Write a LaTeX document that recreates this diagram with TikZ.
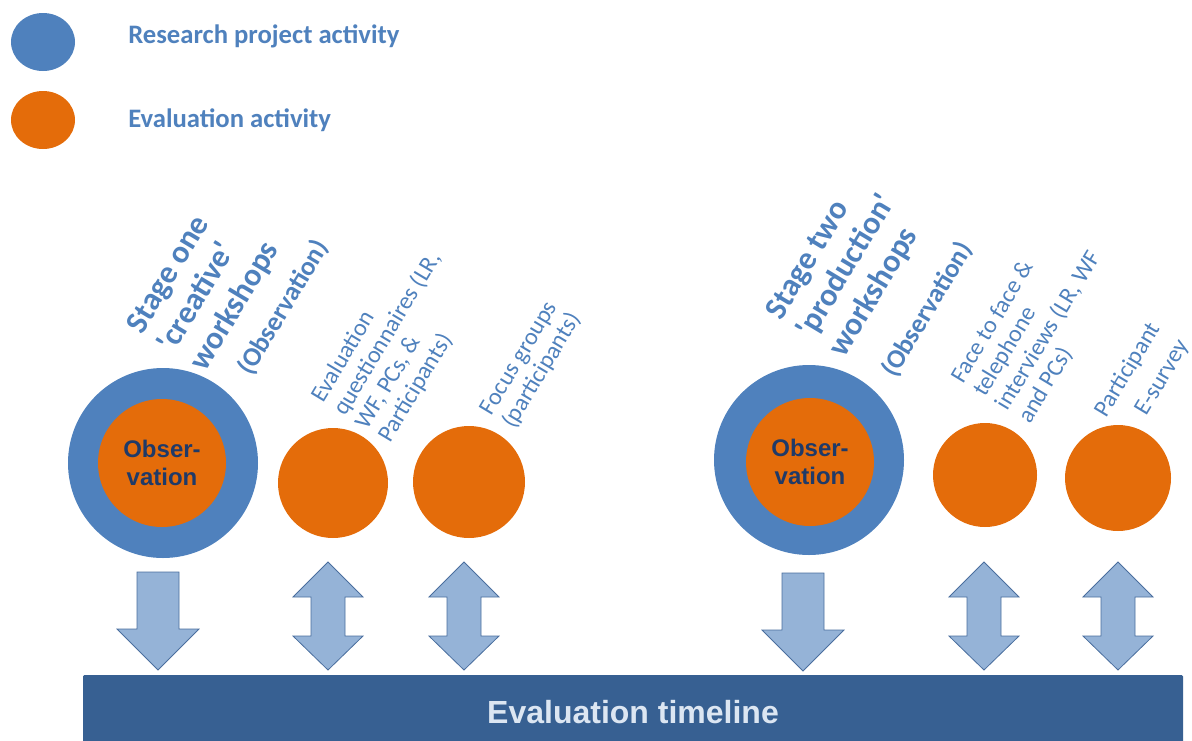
\documentclass[tikz,border=0pt]{standalone}
\usepackage{fontspec}
\setmainfont{Carlito}
\newfontfamily\arialfont{Liberation Sans}
\usetikzlibrary{shapes.geometric}
\definecolor{accblue}{HTML}{4F81BD}
\definecolor{accorange}{HTML}{E46C0A}
\definecolor{arrfill}{HTML}{95B3D7}
\definecolor{arrline}{HTML}{4A6E9E}
\definecolor{barblue}{HTML}{376092}
\definecolor{bartext}{HTML}{DCE6F2}
\definecolor{obstext}{HTML}{1F3A68}
\tikzset{
  downarrow/.pic={
    \draw[blockarrow] (-21,0) -- (21,0) -- (21,57) -- (41,57) -- (0,98) -- (-41,57) -- (-21,57) -- cycle;
  },
  dblarrow/.pic={
    \draw[blockarrow] (0,0) -- (35,35) -- (17,35) -- (17,74) -- (35,74) -- (0,108) -- (-35,74) -- (-17,74) -- (-17,35) -- (-35,35) -- cycle;
  }
}
\begin{document}
\begin{tikzpicture}[x=0.75pt,y=-0.75pt,
  bigring/.style={circle,fill=accblue,minimum size=142.5pt,inner sep=0},
  evaldot/.style={circle,fill=accorange,inner sep=0},
  obsdot/.style={circle,fill=accorange,minimum size=96pt,inner sep=0,
    font=\arialfont\bfseries\fontsize{18}{21.6}\selectfont,text=obstext,align=center},
  lbl/.style={rotate=59,anchor=base west,inner sep=0,text=accblue,align=left},
  boldlbl/.style={lbl,font=\bfseries\fontsize{24}{27.5}\selectfont},
  obslbl/.style={lbl,font=\bfseries\fontsize{20}{24}\selectfont},
  reglbl/.style={lbl,font=\fontsize{18}{19.5}\selectfont},
  legtext/.style={anchor=base west,inner sep=0,text=accblue,font=\bfseries\fontsize{20}{24}\selectfont},
  legdot/.style={ellipse,minimum width=48pt,minimum height=43.5pt,inner sep=0},
  blockarrow/.style={fill=arrfill,draw=arrline,line width=0.6pt,line join=miter}
]
\useasboundingbox (0,0) rectangle (1192,740);

% legend
\node[legdot,fill=accblue] (legA) at (43,42) {};
\node[legdot,fill=accorange] (legB) at (43,120) {};
\node[legtext] (legAtext) at (128,43) {Research project activity};
\node[legtext] (legBtext) at (128,127) {Evaluation activity};

% circles
\node[bigring] (ring1) at (163,463) {};
\node[obsdot] (obs1) at (162,463) {Obser-\\vation};
\node[evaldot,minimum size=82.5pt] (q1) at (333,483) {};
\node[evaldot,minimum size=84pt] (q2) at (469,482) {};
\node[bigring] (ring2) at (809,460) {};
\node[obsdot] (obs2) at (810,462) {Obser-\\vation};
\node[evaldot,minimum size=78pt] (q3) at (985,475) {};
\node[evaldot,minimum size=79.5pt] (q4) at (1118,478) {};

% labels (anchored at the start of their last line)
\node[boldlbl] (lblA) at (205,373) {Stage one\\\textquotesingle creative\textquotesingle\\workshops};
\node[obslbl] (lblB) at (251,377) {(Observation)};
\node[reglbl] (lblC) at (390,444) {Evaluation\\questionnaires (LR,\\WF, PCs, \&\\Participants)};
\node[reglbl] (lblD) at (514,430) {Focus groups\\(participants)};
\node[boldlbl] (lblE) at (844,359) {Stage two\\\textquotesingle production\textquotesingle\\workshops};
\node[obslbl] (lblF) at (895,379) {(Observation)};
\node[reglbl] (lblG) at (1030,425) {Face to face \&\\telephone\\interviews (LR, WF\\and PCs)};
\node[reglbl,align=right,font=\fontsize{18}{25}\selectfont] (lblH) at (1135,436) {Participant\\E-survey};

% block arrows
\pic at (158,572) {downarrow};
\pic at (803,573) {downarrow};
\pic at (328,562) {dblarrow};
\pic at (464,562) {dblarrow};
\pic at (984,562) {dblarrow};
\pic at (1118,562) {dblarrow};

% timeline bar
\node[fill=barblue,rounded corners=1pt,minimum width=825pt,minimum height=56.25pt,inner sep=0,
  text=bartext,font=\arialfont\bfseries\fontsize{24}{28}\selectfont] (timeline) at (633,712.5) {Evaluation timeline};
\end{tikzpicture}
\end{document}
